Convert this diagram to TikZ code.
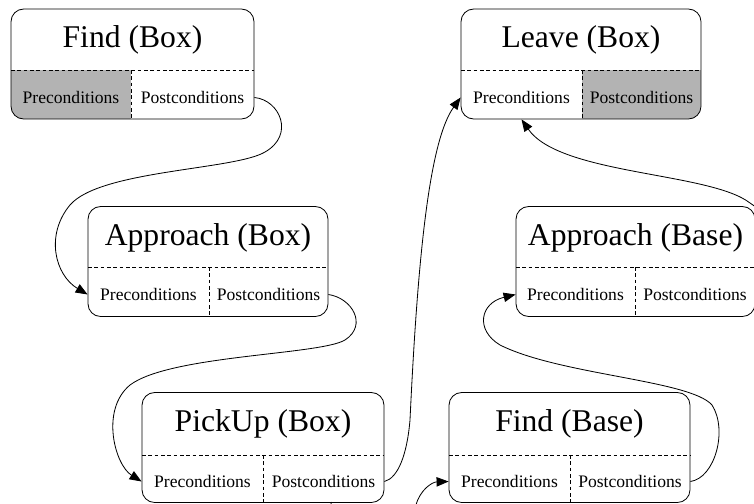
\documentclass[tikz,border=0pt]{standalone}
\usepackage{fontspec}
\setmainfont{Liberation Serif}
\usetikzlibrary{arrows.meta}

\definecolor{shaded}{RGB}{179,179,179}

\tikzset{
	taskbox/.style={draw, rounded corners=0.38cm, line width=0.7pt, minimum height=3.3cm, inner sep=0pt},
	divider/.style={line width=0.7pt, dash pattern=on 0.11cm off 0.08cm},
	tasktitle/.style={font=\fontsize{27}{30}\selectfont, inner sep=0pt},
	condition/.style={font=\fontsize{15}{17}\selectfont, inner sep=0pt},
	flow/.style={line width=0.7pt, -{Triangle[length=0.36cm, width=0.28cm]}},
	cellclip/.style={rounded corners=0.38cm}
}

\begin{document}
\begin{tikzpicture}[x=0.03cm, y=-0.03cm]

	\useasboundingbox (0,0) rectangle (754,504);

	% shaded cells
	\begin{scope}
		\clip[cellclip] (11,9) rectangle (254,119);
		\fill[shaded] (11,70) rectangle (131,119);
	\end{scope}
	\begin{scope}
		\clip[cellclip] (461,9) rectangle (701,119);
		\fill[shaded] (582,70) rectangle (701,119);
	\end{scope}

	% boxes
	\node[taskbox, minimum width=243*0.03cm] (findbox) at (132.5,64) {};
	\node[taskbox, minimum width=240*0.03cm] (leavebox) at (581,64) {};
	\node[taskbox, minimum width=240*0.03cm] (appbox) at (208,261.5) {};
	\node[taskbox, minimum width=239*0.03cm] (appbase) at (635.5,261.5) {};
	\node[taskbox, minimum width=242*0.03cm] (pickbox) at (263,447.5) {};
	\node[taskbox, minimum width=241*0.03cm] (findbase) at (569.5,447.5) {};

	\draw[divider] (11,70) -- (254,70);
	\draw[divider] (131,70) -- (131,119);
	\draw[divider] (461,70) -- (701,70);
	\draw[divider] (582,70) -- (582,119);
	\draw[divider] (88,267) -- (328,267);
	\draw[divider] (209,267) -- (209,316);
	\draw[divider] (516,267) -- (755,267);
	\draw[divider] (635,267) -- (635,316);
	\draw[divider] (142,455) -- (384,455);
	\draw[divider] (263,455) -- (263,502);
	\draw[divider] (449,455) -- (690,455);
	\draw[divider] (570,455) -- (570,502);

	% titles
	\node[tasktitle] (findbox-name) at (132.5,39.5) {Find (Box)};
	\node[tasktitle] (leavebox-name) at (581,39.5) {Leave (Box)};
	\node[tasktitle] (appbox-name) at (208,238) {Approach (Box)};
	\node[tasktitle] (appbase-name) at (635.5,238) {Approach (Base)};
	\node[tasktitle] (pickbox-name) at (263,424) {PickUp (Box)};
	\node[tasktitle] (findbase-name) at (569.5,424) {Find (Base)};

	% conditions
	\node[condition] (findbox-pre) at (71,97.5) {Preconditions};
	\node[condition] (findbox-post) at (192.5,97.5) {Postconditions};
	\node[condition] (leavebox-pre) at (521.5,97.5) {Preconditions};
	\node[condition] (leavebox-post) at (641.5,97.5) {Postconditions};
	\node[condition] (appbox-pre) at (148.5,294.5) {Preconditions};
	\node[condition] (appbox-post) at (268.5,294.5) {Postconditions};
	\node[condition] (appbase-pre) at (575.5,294.5) {Preconditions};
	\node[condition] (appbase-post) at (695,294.5) {Postconditions};
	\node[condition] (pickbox-pre) at (202.5,481.5) {Preconditions};
	\node[condition] (pickbox-post) at (323.5,481.5) {Postconditions};
	\node[condition] (findbase-pre) at (509.5,481.5) {Preconditions};
	\node[condition] (findbase-post) at (630,481.5) {Postconditions};

	\coordinate (pickdown) at (331,502);

	% flow
	\draw[flow] (findbox.east |- findbox-post) .. controls (280,100) and (295,135) .. (265,152)
		.. controls (235,170) and (100,170) .. (70,205)
		.. controls (45,235) and (55,275) .. (appbox.west |- appbox-pre);
	\draw[flow] (appbox.east |- appbox-post) .. controls (352,298) and (368,325) .. (345,340)
		.. controls (320,355) and (170,355) .. (130,385)
		.. controls (100,410) and (115,465) .. (pickbox.west |- pickbox-pre);
	\draw[flow] (pickbox.east |- pickbox-post) .. controls (398,478) and (407,455) .. (410,420)
		.. controls (418,250) and (430,140) .. (leavebox.west |- leavebox-pre);
	\draw[flow] (pickdown) .. controls (331,540) and (412,540) .. (416,505)
		.. controls (420,490) and (432,482) .. (findbase.west |- findbase-pre);
	\draw[flow] (findbase.east |- findbase-post) .. controls (715,478) and (728,430) .. (712,405)
		.. controls (690,380) and (560,375) .. (500,345)
		.. controls (475,330) and (480,303) .. (appbase.west |- appbase-pre);
	\draw[flow] (appbase.east |- appbase-post) .. controls (790,290) and (785,225) .. (750,203)
		.. controls (710,172) and (560,175) .. (leavebox-pre |- leavebox.south);

\end{tikzpicture}
\end{document}
